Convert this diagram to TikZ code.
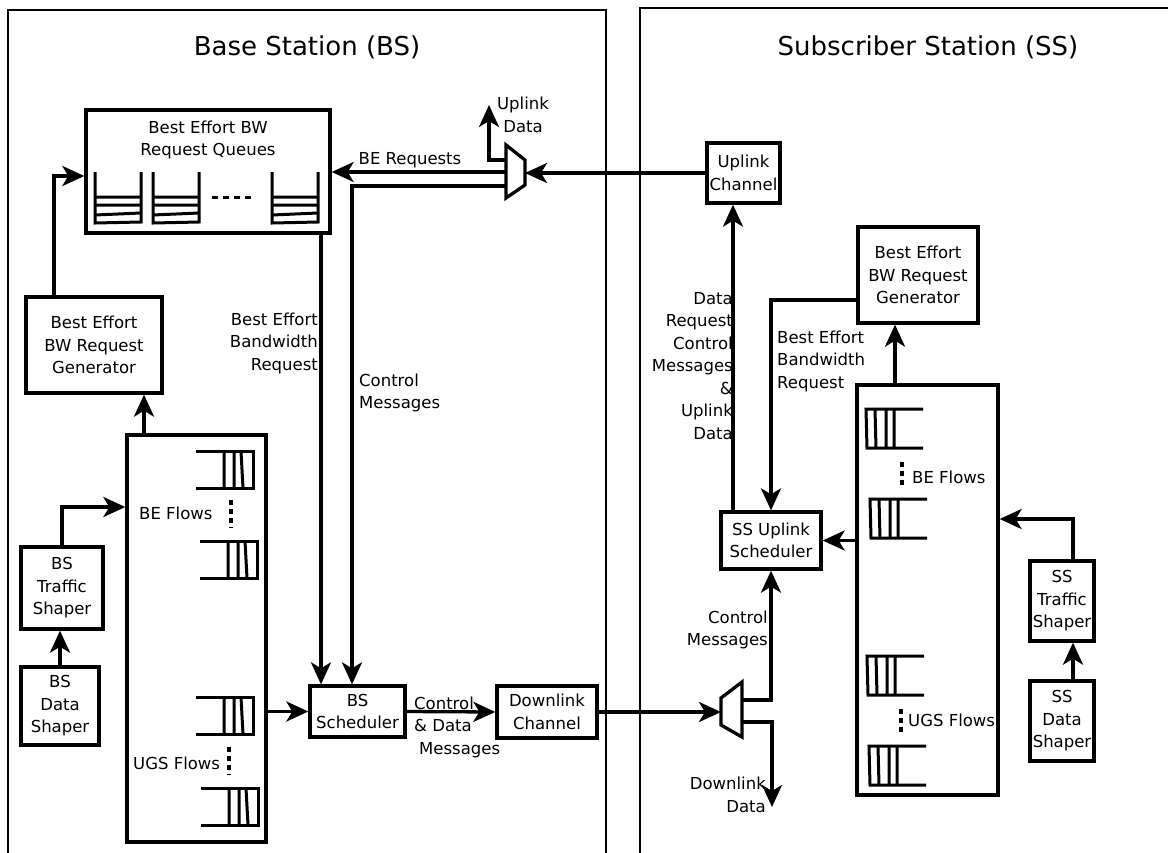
\documentclass[tikz,border=0pt]{standalone}
\usepackage{fontspec}
\setmainfont{DejaVu Sans}
\usetikzlibrary{arrows.meta}
\begin{document}
\begin{tikzpicture}[x=1pt,y=-1pt,
  box/.style={draw,line width=3.3pt,inner sep=0pt,align=center,font=\fontsize{16.5}{22.5}\selectfont},
  lbl/.style={inner sep=0pt,font=\fontsize{16.5}{22.5}\selectfont},
  ttl/.style={inner sep=0pt,font=\fontsize{26}{30}\selectfont},
  frame/.style={line width=2.6pt},
  qline/.style={line width=3pt},
  arr/.style={line width=3.3pt,-{Stealth[length=22pt,width=20pt,inset=6pt]}},
  ln/.style={line width=3.3pt},
  vdots/.style={line width=3.3pt,dash pattern=on 5pt off 4pt},
  vq/.pic={\draw[qline] (0,0)--(0,51)--(46,50)--(46,0);
           \draw[qline] (0,25)--(46,25) (0,33)--(46,33) (0,43)--(46,41);},
  lq/.pic={\draw[qline] (0,0)--(57,0)--(57,37)--(0,37);
           \draw[qline] (28,0)--(28,37) (38,0)--(38,37) (45,0)--(47,37);},
  rq/.pic={\draw[qline] (57,0)--(0,0)--(1,39)--(57,39);
           \draw[qline] (9,0)--(10,39) (20,0)--(20,39) (28,0)--(28,39);}
]
\useasboundingbox (0,0) rectangle (1168,852);
% frames
\draw[frame] (8,856) -- (8,10) -- (606,10) -- (606,856);
\draw[frame] (640,856) -- (640,8) -- (1172,8);
\node[ttl] (bstitle) at (307,47) {Base Station (BS)};
\node[ttl] (sstitle) at (928,47) {Subscriber Station (SS)};

% ---------- BS ----------
\node[box,minimum width=244pt,minimum height=123pt] (qbox) at (208,171.5) {};
\node[lbl,align=center] (qtitle) at (208,140) {Best Effort BW\\Request Queues};
\pic at (95,172) {vq};
\pic at (153,172) {vq};
\pic at (272,172) {vq};
\draw[qline,dash pattern=on 6pt off 5pt] (212,197) -- (252,197);

\node[box,minimum width=136pt,minimum height=96pt] (bsgen) at (94,345) {Best Effort\\BW Request\\Generator};
\node[box,minimum width=139pt,minimum height=407pt] (bsflows) at (196.5,638.5) {};
\pic at (196,451) {lq};
\pic at (200,541) {lq};
\pic at (196,697) {lq};
\pic at (201,788) {lq};
\draw[vdots] (231,500) -- (231,528);
\draw[vdots] (229,747) -- (229,775);
\node[lbl,anchor=west] (bsbe) at (139,513) {BE Flows};
\node[lbl,anchor=west] (bsugs) at (133,763) {UGS Flows};

\node[box,minimum width=82pt,minimum height=82pt] (bsts) at (62,588) {BS\\Traffic\\Shaper};
\node[box,minimum width=78pt,minimum height=78pt] (bsds) at (60,706) {BS\\Data\\Shaper};
\node[box,minimum width=95pt,minimum height=51pt] (bssch) at (357.5,711.5) {BS\\Scheduler};
\node[box,minimum width=100pt,minimum height=52pt] (dlch) at (547,712) {Downlink\\Channel};

% BS mux
\draw[ln] (506,145) -- (525,160) -- (525,185) -- (506,198) -- cycle;
\coordinate (bsmuxR) at (525,172);
\coordinate (bsmuxA) at (505,172);
\coordinate (bsmuxB) at (505,186);
\coordinate (bsmuxC) at (505,160);
\coordinate (uldata) at (489,105);

% ---------- SS ----------
\node[box,minimum width=73pt,minimum height=60pt] (ulch) at (743.5,173) {Uplink\\Channel};
\node[box,minimum width=120pt,minimum height=96pt] (ssgen) at (918,275) {Best Effort\\BW Request\\Generator};
\node[box,minimum width=100pt,minimum height=57pt] (sssch) at (771,540.5) {SS Uplink\\Scheduler};
\node[box,minimum width=141pt,minimum height=410pt] (ssflows) at (927.5,590) {};
\pic at (866,409) {rq};
\pic at (870,499) {rq};
\pic at (867,656) {rq};
\pic at (869,746) {rq};
\draw[vdots] (902,462) -- (902,488);
\draw[vdots] (901,709) -- (901,735);
\node[lbl,anchor=west] (ssbe) at (912,477) {BE Flows};
\node[lbl,anchor=west] (ssugs) at (908,720) {UGS Flows};
\node[box,minimum width=64pt,minimum height=80pt] (ssts) at (1062,601) {SS\\Traffic\\Shaper};
\node[box,minimum width=64pt,minimum height=80pt] (ssds) at (1062,721) {SS\\Data\\Shaper};

% SS mux
\draw[ln] (721,698) -- (742,682) -- (742,737) -- (721,725) -- cycle;
\coordinate (ssmuxL) at (721,712);
\coordinate (ssmuxU) at (743,700);
\coordinate (ssmuxD) at (743,722);
\coordinate (dldata) at (772,807);

% ---------- labels ----------
\node[lbl] (lberq) at (410,160) {BE Requests};
\node[lbl,align=center] (luld) at (523,115) {Uplink\\Data};
\node[lbl,anchor=east,align=right] (lbebr) at (318,343) {Best Effort\\Bandwidth\\Request};
\node[lbl,anchor=west,align=left] (lcm) at (359,393) {Control\\Messages};
\node[lbl,anchor=west,align=left] (lcdm) at (414,727) {Control\\\& Data\\\hspace*{5pt}Messages};
\node[lbl,anchor=east,align=right] (ldld) at (766,795) {Downlink\\Data};
\node[lbl,anchor=east,align=right] (lsscm) at (768,630) {Control\\Messages};
\node[lbl,anchor=east,align=right] (ldrc) at (733,366) {Data\\Request\\Control\\Messages\\\&\\Uplink\\Data};
\node[lbl,anchor=west,align=left] (lssbe) at (777,361) {Best Effort\\Bandwidth\\Request};

% ---------- connectors ----------
\draw[arr] ([xshift=-40pt]bsgen.north) |- ([yshift=-4.5pt]qbox.west);
\draw[arr] (bsmuxA) -- (bsmuxA -| qbox.east);
\draw[arr] (bsmuxB) -| ([xshift=-5.5pt]bssch.north);
\draw[arr] (qbox.south -| 321,0) -- (bssch.north -| 321,0);
\draw[arr] (bsmuxC) -| (uldata);
\draw[arr] (ulch.west) -- (ulch.west -| bsmuxR);
\draw[arr] (bsflows.east |- bssch.west) -- (bssch.west);
\draw[arr] (bsflows.north -| 144,0) -- (bsgen.south -| 144,0);
\draw[arr] (bsts.north) |- (bsflows.west |- 0,507);
\draw[arr] (bsds.north) -- (bsds.north |- bsts.south);
\draw[arr] (bssch.east) -- (dlch.west);
\draw[arr] (dlch.east) -- (ssmuxL);
\draw[arr] (ssmuxU) -| (sssch.south);
\draw[arr] (ssmuxD) -| (dldata);
\draw[arr] (sssch.north -| 733,0) -- (ulch.south -| 733,0);
\draw[arr] (ssgen.west |- 0,300) -| (sssch.north);
\draw[arr] (ssflows.north -| 895,0) -- (ssgen.south -| 895,0);
\draw[arr] (ssflows.west |- sssch.east) -- (sssch.east);
\draw[arr] (ssts.north -| 1073,0) |- (ssflows.east |- 0,519);
\draw[arr] (ssds.north -| 1073,0) -- (ssts.south -| 1073,0);
\end{tikzpicture}
\end{document}
